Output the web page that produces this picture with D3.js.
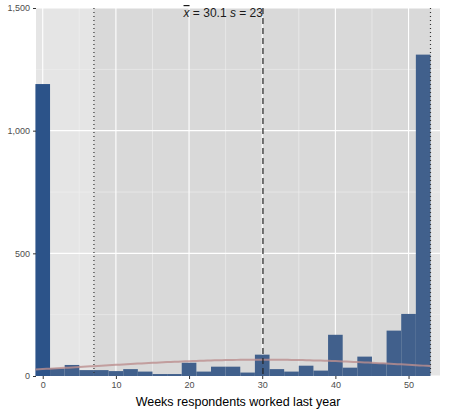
<!DOCTYPE html><html><head><script src="https://d3js.org/d3.v7.min.js"></script>
<style>body{margin:0;background:#fff}text{font-family:"Liberation Sans",Arial,sans-serif}</style></head><body>
<script>
const binCenters=[0,2,4,6,8,10,12,14,16,18,20,22,24,26,28,30,32,34,36,38,40,42,44,46,48,50,52];
const counts=[1190,31,45,24,24,20,28,18,8,8,54,18,38,38,14,87,28,18,42,22,168,34,79,52,185,253,1310];
const xTicks=[0,10,20,30,40,50];
const yTicks=[0,500,1000,1500];
const meanVal=30.1, sdVal=23, lowCut=7, highCut=53;
const W=451,H=414;
const svg=d3.select("body").append("svg").attr("width",W).attr("height",H);
const x=d3.scaleLinear().domain([-0.92,54.3]).range([36,440]);
const y=d3.scaleLinear().domain([0,1500]).range([376,8]);
svg.append("rect").attr("x",36).attr("y",8).attr("width",404).attr("height",368).attr("fill","#e5e5e5");
svg.append("rect").attr("x",x(lowCut)).attr("y",8).attr("width",x(highCut)-x(lowCut)).attr("height",368).attr("fill","#d9d9d9");
const g=svg.append("g");
[5,15,25,35,45].forEach(v=>g.append("line").attr("x1",x(v)).attr("x2",x(v)).attr("y1",8).attr("y2",376).attr("stroke","#f0f0f0").attr("stroke-width",0.6));
[250,750,1250].forEach(v=>g.append("line").attr("x1",36).attr("x2",440).attr("y1",y(v)).attr("y2",y(v)).attr("stroke","#f0f0f0").attr("stroke-width",0.6));
xTicks.forEach(v=>g.append("line").attr("x1",x(v)).attr("x2",x(v)).attr("y1",8).attr("y2",376).attr("stroke","#fff").attr("stroke-width",1.1));
yTicks.forEach(v=>g.append("line").attr("x1",36).attr("x2",440).attr("y1",y(v)).attr("y2",y(v)).attr("stroke","#fff").attr("stroke-width",1.1));
svg.selectAll(".bar").data(binCenters).enter().append("rect")
 .attr("x",d=>x(d-1)).attr("width",d=>x(d+1)-x(d-1)).attr("y",(d,i)=>y(counts[i])).attr("height",(d,i)=>376-y(counts[i]))
 .attr("fill",(d,i)=>i==0?"#2c5389":"#41608c");
const N=d3.sum(counts);
const pts=d3.range(-1,53.01,0.5).map(v=>[v,N*Math.exp(-0.5*((v-meanVal)/sdVal)**2)/(sdVal*Math.sqrt(2*Math.PI))]);
svg.append("path").attr("d",d3.line().x(d=>x(d[0])).y(d=>y(d[1]))(pts)).attr("fill","none").attr("stroke","#bc8f8f").attr("stroke-opacity",0.8).attr("stroke-width",2);
[lowCut,highCut].forEach(v=>svg.append("line").attr("x1",x(v)).attr("x2",x(v)).attr("y1",8).attr("y2",376).attr("stroke","#333").attr("stroke-dasharray","1,3").attr("stroke-width",1.2));
svg.append("line").attr("x1",x(meanVal)).attr("x2",x(meanVal)).attr("y1",8).attr("y2",376).attr("stroke","#222").attr("stroke-dasharray","6,4").attr("stroke-width",1.2);
const t=svg.append("text").attr("x",x(meanVal)).attr("y",17).attr("text-anchor","end").attr("font-size",12).attr("fill","#1a1a1a");
t.append("tspan").attr("text-decoration","overline").attr("font-style","italic").text("x");
t.append("tspan").text(" = 30.1  ");
t.append("tspan").attr("font-style","italic").text("s");
t.append("tspan").text(" = 23");
const xa=svg.append("g").attr("transform","translate(0,376)").call(d3.axisBottom(x).tickValues(xTicks).tickSize(3));
const ya=svg.append("g").attr("transform","translate(36,0)").call(d3.axisLeft(y).tickValues(yTicks).tickSize(3));
[xa,ya].forEach(a=>{a.select(".domain").remove();a.selectAll("line").attr("stroke","#333");a.selectAll("text").attr("font-size",9).attr("fill","#4d4d4d");});
svg.append("text").attr("x",238).attr("y",406).attr("text-anchor","middle").attr("font-size",12.5).attr("fill","#000").text("Weeks respondents worked last year");
</script></body></html>
